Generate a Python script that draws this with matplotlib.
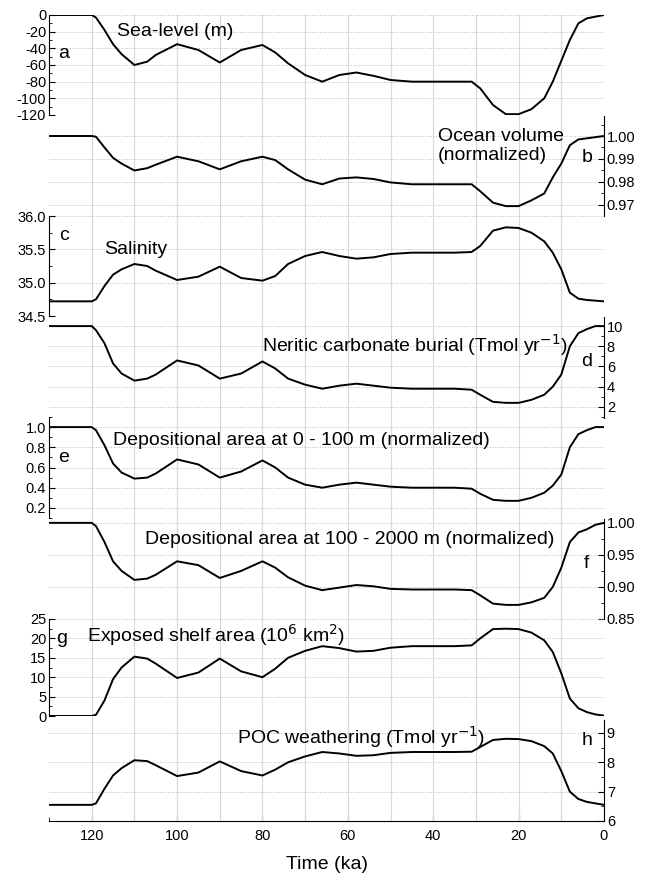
import matplotlib
matplotlib.use('Agg')
import matplotlib.pyplot as plt
import numpy as np
from matplotlib.ticker import MultipleLocator

plt.rcParams['font.family'] = ['Liberation Sans', 'DejaVu Sans']

# time points (ka)
t = [130, 120, 119, 117, 115, 113, 110, 107, 105, 100, 95, 90, 85, 80, 77, 74, 70, 66, 62, 58, 54, 50, 45, 40, 35, 31, 29, 26, 23, 20, 17, 14, 12, 10, 8, 6, 4, 2, 0]

sea_level = [0, 0, -3, -18, -35, -47, -60, -56, -48, -35, -42, -57, -42, -36, -45, -58, -72, -80, -72, -69, -73, -78, -80, -80, -80, -80, -88, -108, -119, -119, -113, -100, -80, -55, -30, -10, -4, -2, 0]
ocean_vol = [1.0, 1.0, 0.9997, 0.995, 0.9905, 0.988, 0.985, 0.986, 0.9875, 0.991, 0.989, 0.9855, 0.989, 0.991, 0.9895, 0.9855, 0.981, 0.979, 0.9815, 0.982, 0.9813, 0.9798, 0.979, 0.979, 0.979, 0.979, 0.976, 0.971, 0.9695, 0.9695, 0.972, 0.975, 0.982, 0.988, 0.996, 0.9985, 0.999, 0.9995, 1.0]
salinity = [34.72, 34.72, 34.75, 34.95, 35.12, 35.2, 35.28, 35.25, 35.18, 35.04, 35.09, 35.24, 35.07, 35.03, 35.1, 35.28, 35.4, 35.46, 35.4, 35.36, 35.38, 35.43, 35.45, 35.45, 35.45, 35.46, 35.55, 35.78, 35.83, 35.82, 35.75, 35.62, 35.45, 35.2, 34.85, 34.76, 34.74, 34.73, 34.72]
neritic = [10.0, 10.0, 9.6, 8.3, 6.3, 5.3, 4.6, 4.8, 5.2, 6.6, 6.1, 4.8, 5.3, 6.5, 5.8, 4.8, 4.2, 3.8, 4.1, 4.3, 4.1, 3.9, 3.8, 3.8, 3.8, 3.7, 3.2, 2.5, 2.4, 2.4, 2.7, 3.2, 4.0, 5.2, 8.0, 9.3, 9.7, 10.0, 10.0]
dep_0_100 = [1.0, 1.0, 0.97, 0.82, 0.64, 0.55, 0.49, 0.5, 0.54, 0.68, 0.63, 0.5, 0.56, 0.67, 0.6, 0.5, 0.43, 0.4, 0.43, 0.45, 0.43, 0.41, 0.4, 0.4, 0.4, 0.39, 0.34, 0.28, 0.27, 0.27, 0.3, 0.35, 0.42, 0.53, 0.8, 0.93, 0.97, 1.0, 1.0]
dep_100_2000 = [1.0, 1.0, 0.995, 0.97, 0.94, 0.925, 0.911, 0.913, 0.919, 0.94, 0.934, 0.914, 0.925, 0.94, 0.93, 0.915, 0.902, 0.895, 0.899, 0.903, 0.901, 0.897, 0.896, 0.896, 0.896, 0.895, 0.887, 0.874, 0.872, 0.872, 0.876, 0.883, 0.9, 0.93, 0.97, 0.985, 0.99, 0.997, 1.0]
shelf = [0, 0, 0.3, 4, 9.5, 12.5, 15.3, 14.8, 13.5, 9.8, 11.2, 14.8, 11.5, 10.0, 12.2, 15.0, 16.8, 18.0, 17.5, 16.6, 16.8, 17.6, 18.0, 18.0, 18.0, 18.2, 20.0, 22.4, 22.5, 22.4, 21.5, 19.5, 16.5, 11.0, 4.5, 2.0, 1.0, 0.4, 0.1]
poc = [6.55, 6.55, 6.6, 7.1, 7.55, 7.8, 8.07, 8.04, 7.9, 7.53, 7.65, 8.03, 7.7, 7.55, 7.75, 8.0, 8.2, 8.35, 8.3, 8.22, 8.24, 8.32, 8.35, 8.35, 8.35, 8.36, 8.52, 8.76, 8.8, 8.79, 8.72, 8.55, 8.3, 7.7, 7.0, 6.75, 6.65, 6.6, 6.55]

W, H = 650, 874
fig = plt.figure(figsize=(6.5, 8.74), dpi=100)
x0, x1 = 49, 604

def add(top, bot):
    return fig.add_axes([x0 / W, 1 - bot / H, (x1 - x0) / W, (bot - top) / H])

# background with vertical grid
bg = add(15, 821)
bg.set_xlim(130, 0)
bg.set_ylim(0, 1)
for xv in range(10, 130, 10):
    bg.axvline(xv, color='#d8d8d8', lw=0.8)
bg.set_yticks([])
for s in ['top', 'right', 'left']:
    bg.spines[s].set_visible(False)
bg.xaxis.set_major_locator(MultipleLocator(20))
bg.xaxis.set_minor_locator(MultipleLocator(10))
bg.tick_params(axis='x', labelsize=10.5, direction='in', length=5, pad=6)
bg.tick_params(axis='x', which='minor', direction='in', length=3)
bg.set_xlabel('Time (ka)', fontsize=14, labelpad=9)

panels = [
    (sea_level, 15, 115, (-120, 0), [0, -20, -40, -60, -80, -100, -120], '%d', 'left', 'a',
     'Sea-level (m)', (114, 0.83), (126.5, 0.62)),
    (ocean_vol, 116, 216, (0.9652, 1.0087), [1.00, 0.99, 0.98, 0.97], '%.2f', 'right', 'b',
     'Ocean volume\n(normalized)', (39, 0.7), (4, 0.58)),
    (salinity, 216, 316, (34.5, 36.0), [36.0, 35.5, 35.0, 34.5], '%.1f', 'left', 'c',
     'Salinity', (117, 0.66), (126.5, 0.8)),
    (neritic, 317, 418, (0.9, 10.9), [10, 8, 6, 4, 2], '%d', 'right', 'd',
     'Neritic carbonate burial (Tmol yr$^{-1}$)', (80, 0.72), (4, 0.56)),
    (dep_0_100, 417, 518, (0.1, 1.1), [1.0, 0.8, 0.6, 0.4, 0.2], '%.1f', 'left', 'e',
     'Depositional area at 0 - 100 m (normalized)', (115, 0.77), (126.5, 0.6)),
    (dep_100_2000, 519, 619, (0.85, 1.006), [1.00, 0.95, 0.90, 0.85], '%.2f', 'right', 'f',
     'Depositional area at 100 - 2000 m (normalized)', (107.5, 0.79), (4, 0.56)),
    (shelf, 619, 716, (0, 25), [25, 20, 15, 10, 5, 0], '%d', 'left', 'g',
     'Exposed shelf area (10$^6$ km$^2$)', (121, 0.83), (127, 0.8)),
    (poc, 720, 821, (6.0, 9.44), [9, 8, 7, 6], '%d', 'right', 'h',
     'POC weathering (Tmol yr$^{-1}$)', (86, 0.83), (4, 0.8)),
]

for data, top, bot, ylim, ticks, fmt, side, letter, label, lpos, letpos in panels:
    ax = add(top, bot)
    ax.patch.set_alpha(0)
    ax.plot(t, data, color='black', lw=1.4, solid_joinstyle='round')
    ax.set_xlim(130, 0)
    ax.set_ylim(*ylim)
    ax.set_xticks([])
    ax.set_yticks(ticks)
    ax.set_yticklabels([fmt % v for v in ticks])
    for v in ticks:
        ax.axhline(v, color='#bbbbbb', lw=0.7, ls=':', zorder=0)
    for s in ['top', 'bottom', 'left', 'right']:
        ax.spines[s].set_visible(s == side)
    if side == 'right':
        ax.yaxis.tick_right()
    ax.tick_params(axis='y', labelsize=10.5, direction='in', length=4, pad=2)
    ax.tick_params(axis='y', which='minor', direction='in', length=2)
    ax.yaxis.set_minor_locator(MultipleLocator((ticks[0] - ticks[1]) / 2))
    ax.text(lpos[0], lpos[1], label, transform=ax.get_xaxis_transform(), fontsize=14, va='center', ha='left')
    ax.text(letpos[0], letpos[1], letter, transform=ax.get_xaxis_transform(), fontsize=14, va='center', ha='center')

fig.savefig('out.png', dpi=100)
